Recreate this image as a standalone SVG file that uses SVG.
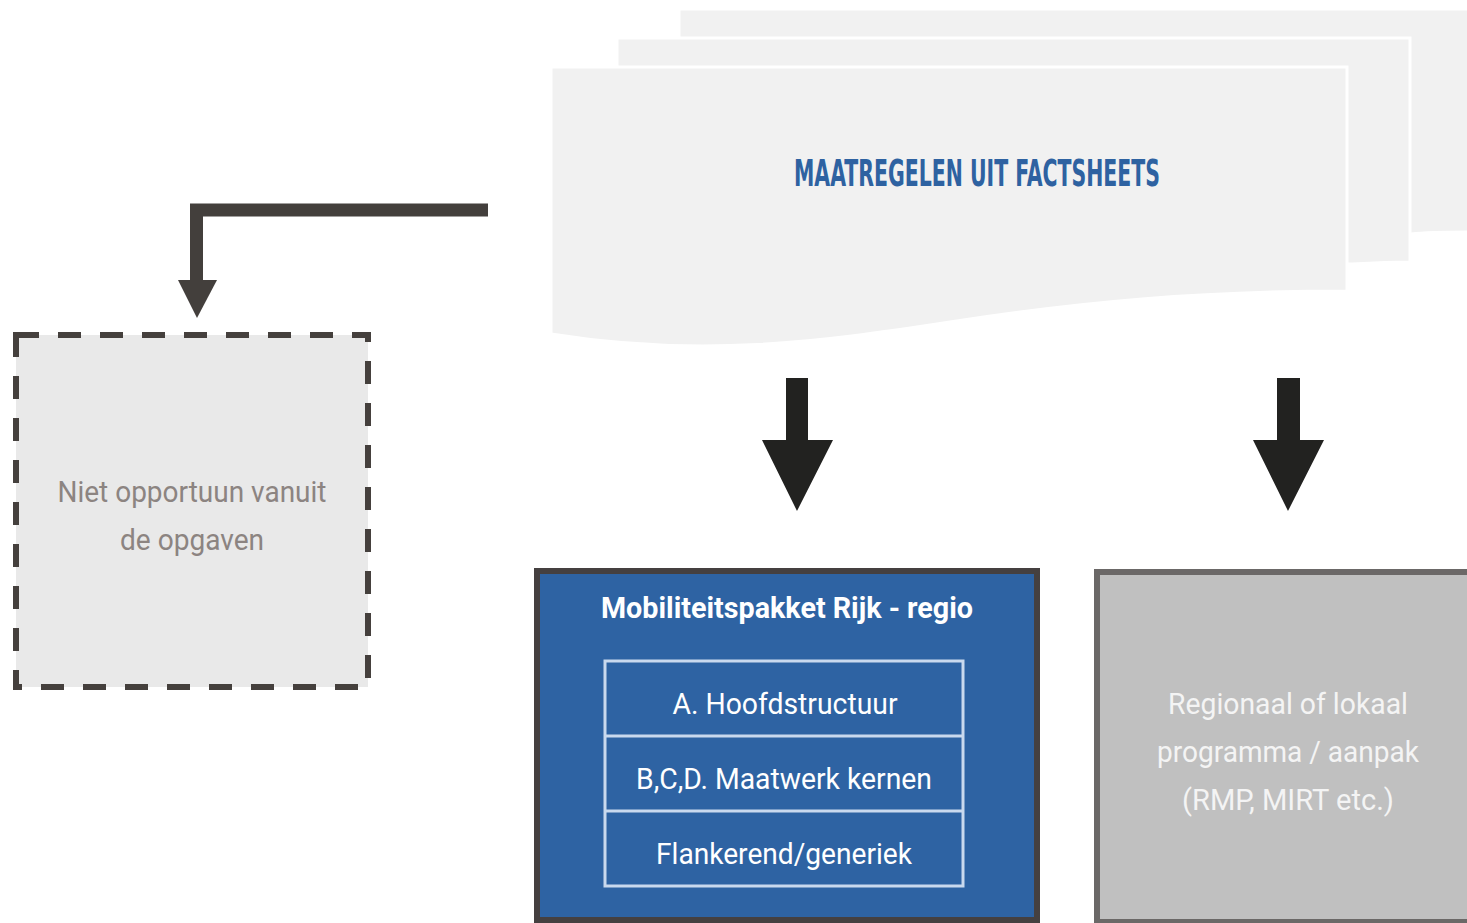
<svg xmlns="http://www.w3.org/2000/svg" width="1467" height="923" viewBox="0 0 1467 923">
<style>
.sheet{fill:#f1f1f1;stroke:#ffffff;stroke-width:3}
.lbl{font-family:Roboto,"Liberation Sans",sans-serif;text-anchor:middle}
.row{fill:none;stroke:#c9d9ee;stroke-width:3}
.down{fill:#222220}
</style>
<rect width="1467" height="923" fill="#ffffff"/>
<g id="factsheets">
<path class="sheet" d="M679,9 H1470 V232 C1440,232 1420,233 1411,234 L679,234 Z"/>
<path class="sheet" d="M617,38 H1410 V262 C1390,262 1370,263 1352,264 L617,264 Z"/>
<path class="sheet" d="M551,67 H1347 V291 C1200,291 1080,302 950,322 C820,342 700,358 551,334 Z"/>
<text x="977" y="186" font-family="'DejaVu Sans Condensed','DejaVu Sans',sans-serif" font-weight="bold" font-size="37" fill="#2e62a1" text-anchor="middle" textLength="366" lengthAdjust="spacingAndGlyphs">MAATREGELEN UIT FACTSHEETS</text>
</g>
<g id="connectors">
<path d="M488,210 H196.5 V282" fill="none" stroke="#433f3c" stroke-width="13"/>
<polygon points="178,280 217,280 197,318" fill="#433f3c"/>
<polygon class="down" points="786,378 808,378 808,440 833,440 797,511 762,440 786,440"/>
<polygon class="down" points="1277,378 1300,378 1300,440 1324,440 1288,511 1253,440 1277,440"/>
</g>
<g id="niet-opportuun">
<rect x="16" y="335" width="352" height="352" fill="#e9e9e9" stroke="#45403d" stroke-width="6" stroke-dasharray="23 19"/>
<text class="lbl" x="192" y="502" font-size="30" fill="#8c8481" textLength="269" lengthAdjust="spacingAndGlyphs">Niet opportuun vanuit</text>
<text class="lbl" x="192" y="550" font-size="30" fill="#8c8481" textLength="144" lengthAdjust="spacingAndGlyphs">de opgaven</text>
</g>
<g id="mobiliteitspakket">
<rect x="537" y="571" width="500" height="349" fill="#2e63a3" stroke="#454040" stroke-width="6"/>
<text class="lbl" x="787" y="618" font-size="30" font-weight="bold" fill="#ffffff" textLength="372" lengthAdjust="spacingAndGlyphs">Mobiliteitspakket Rijk - regio</text>
<rect class="row" x="605" y="661" width="358" height="225"/>
<line class="row" x1="605" y1="736" x2="963" y2="736"/>
<line class="row" x1="605" y1="811" x2="963" y2="811"/>
<text class="lbl" x="785" y="714" font-size="30" fill="#ffffff" textLength="225" lengthAdjust="spacingAndGlyphs">A. Hoofdstructuur</text>
<text class="lbl" x="784" y="789" font-size="30" fill="#ffffff" textLength="296" lengthAdjust="spacingAndGlyphs">B,C,D. Maatwerk kernen</text>
<text class="lbl" x="784" y="864" font-size="30" fill="#ffffff" textLength="256" lengthAdjust="spacingAndGlyphs">Flankerend/generiek</text>
</g>
<g id="regionaal">
<rect x="1097" y="572" width="380" height="350" fill="#c0c0c0" stroke="#6b6867" stroke-width="6"/>
<text class="lbl" x="1288" y="714" font-size="30" fill="#f4f4f4" textLength="240" lengthAdjust="spacingAndGlyphs">Regionaal of lokaal</text>
<text class="lbl" x="1288" y="762" font-size="30" fill="#f4f4f4" textLength="262" lengthAdjust="spacingAndGlyphs">programma / aanpak</text>
<text class="lbl" x="1288" y="810" font-size="30" fill="#f4f4f4" textLength="212" lengthAdjust="spacingAndGlyphs">(RMP, MIRT etc.)</text>
</g>
</svg>
